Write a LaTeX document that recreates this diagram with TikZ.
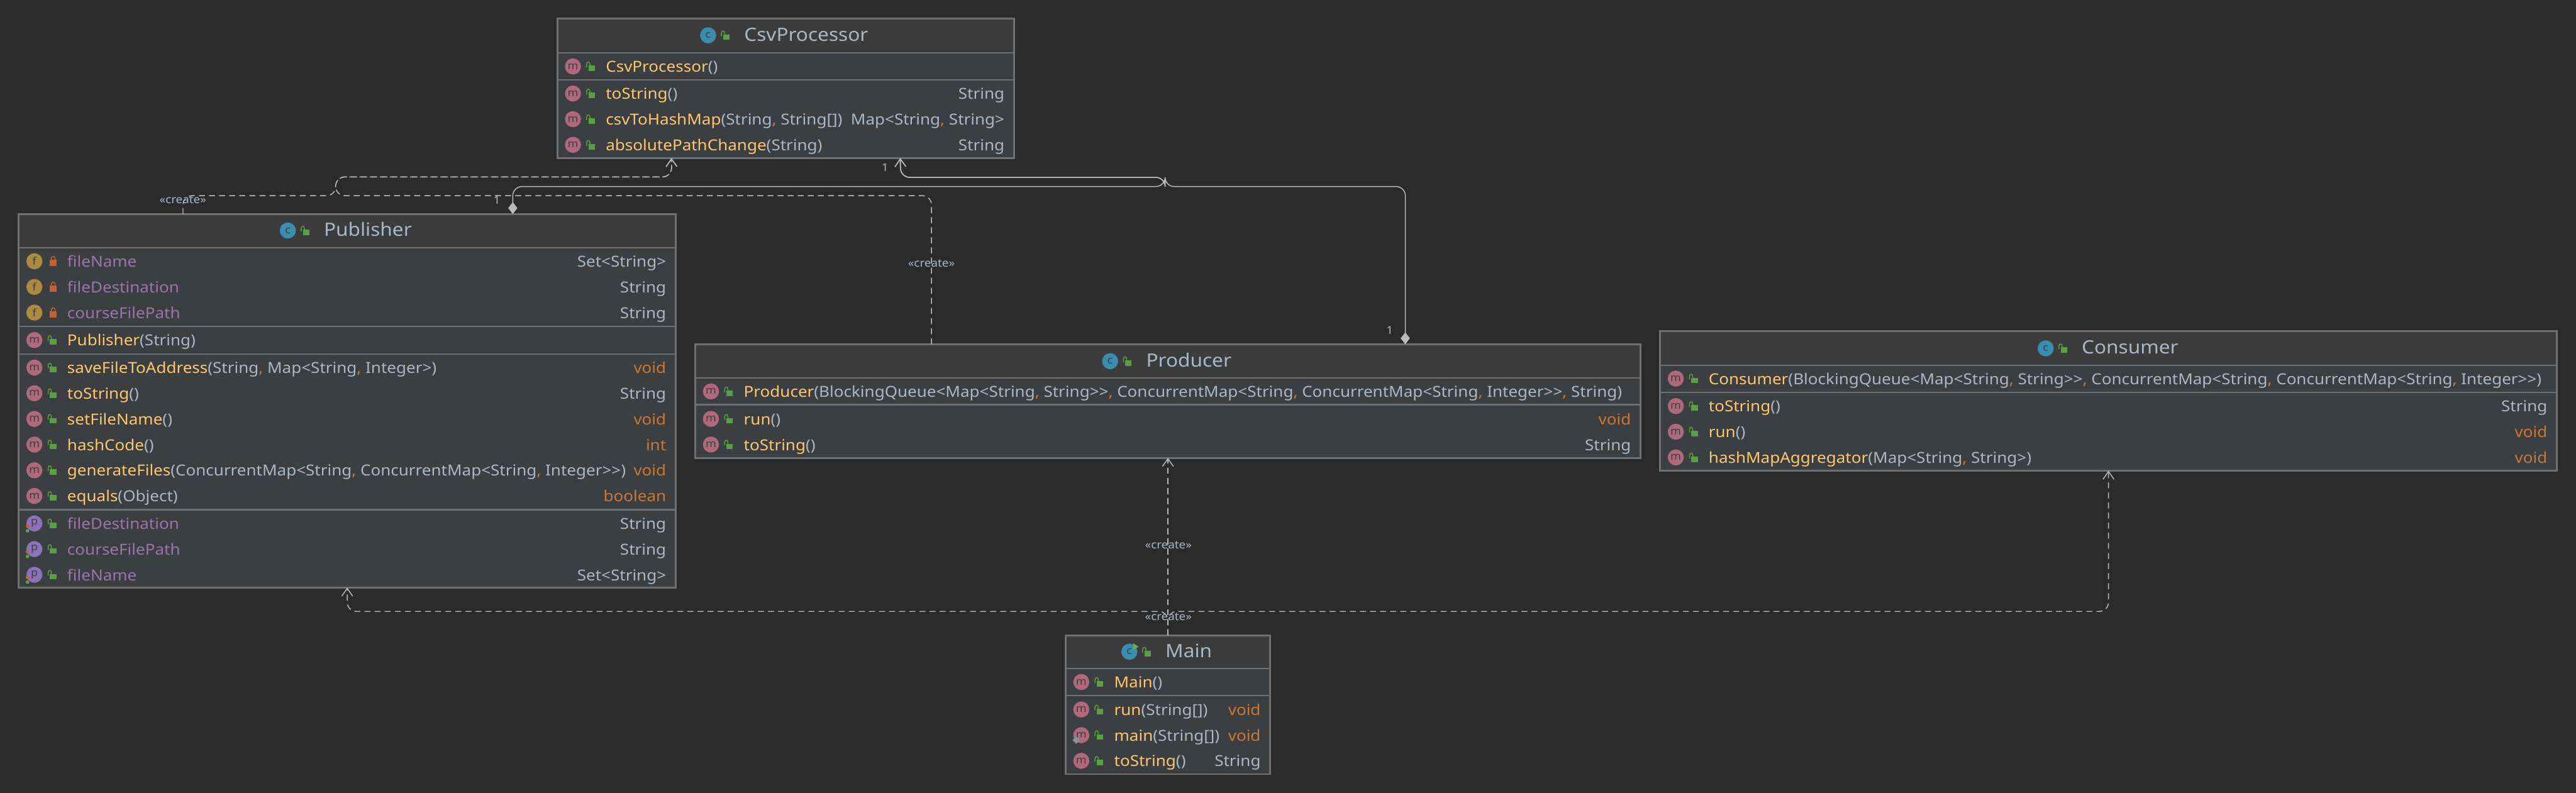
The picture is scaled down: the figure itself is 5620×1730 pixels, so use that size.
\documentclass[tikz,border=0pt]{standalone}
\usepackage{fontspec}
\usepackage{tikz}
\usetikzlibrary{arrows.meta,fit}
\setmainfont[FakeStretch=1.08]{Noto Sans}

\definecolor{backcolor}{HTML}{2B2B2B}
\definecolor{headcolor}{HTML}{3C3C3C}
\definecolor{partcolor}{HTML}{3C3F41}
\definecolor{edgecolor}{HTML}{707070}
\definecolor{linecolor}{HTML}{BBBBBB}
\definecolor{typecolor}{HTML}{A9B7C6}
\definecolor{namecolor}{HTML}{FFC66D}
\definecolor{wordcolor}{HTML}{CC7832}
\definecolor{fieldcolor}{HTML}{9876AA}
\definecolor{markcolor}{HTML}{3C3F41}
\definecolor{methodball}{HTML}{B0697C}
\definecolor{classball}{HTML}{3B8DAE}
\definecolor{fieldball}{HTML}{AE8A3E}
\definecolor{propball}{HTML}{8C72B8}
\definecolor{openlockcolor}{HTML}{59A040}
\definecolor{shutlockcolor}{HTML}{C75F2E}

\newcommand{\bodyfont}{\fontsize{9.4}{11}\selectfont}
\newcommand{\titlefont}{\fontsize{11.4}{13}\selectfont}
\newcommand{\notefont}{\fontsize{6.8}{8}\selectfont}
\newcommand{\markfont}{\fontsize{6.5}{7}\selectfont}
\newcommand{\mn}[1]{\textcolor{namecolor}{#1}}
\newcommand{\fd}[1]{\textcolor{fieldcolor}{#1}}
\newcommand{\kw}[1]{\textcolor{wordcolor}{#1}}
\newcommand{\cm}{\kw{,}}

\tikzset{
  >={Straight Barb[length=.17cm,width=.24cm]},
  headbox/.style={draw=edgecolor,fill=headcolor,line width=.03cm,inner sep=0pt,outer sep=0pt},
  partbox/.style={draw=edgecolor,fill=partcolor,line width=.03cm,inner sep=0pt,outer sep=0pt},
  classbox/.style={draw=edgecolor,line width=.04cm,inner sep=0pt,outer sep=0pt},
  ball/.style={circle,minimum size=.35cm,inner sep=0pt,font=\markfont,text=markcolor},
  iconm/.style={ball,fill=methodball},
  iconf/.style={ball,fill=fieldball},
  iconp/.style={ball,fill=propball},
  iconc/.style={ball,fill=classball},
  rowtext/.style={anchor=mid west,inner sep=0pt,font=\bodyfont,text=typecolor},
  typetext/.style={anchor=mid east,inner sep=0pt,font=\bodyfont,text=typecolor},
  titletext/.style={anchor=mid west,inner sep=0pt,font=\titlefont,text=typecolor},
  note/.style={inner sep=0pt,font=\notefont,text=typecolor},
  solidline/.style={draw=linecolor,line width=.02cm,rounded corners=.2cm},
  createline/.style={solidline,dash pattern=on .13cm off .09cm},
  diamondline/.style={solidline,{Diamond[length=.26cm,width=.2cm,fill=linecolor]}->},
  openlock/.pic={
    \fill[openlockcolor] (-7,-2) rectangle (7,10);
    \draw[openlockcolor,line width=.02cm] (-11,2) -- (-11,-5) .. controls (-11,-11) and (-4,-11) .. (-4,-5) -- (-4,-2);
  },
  shutlock/.pic={
    \fill[shutlockcolor] (-7,-3) rectangle (7,11);
    \draw[shutlockcolor,line width=.02cm] (-4,-3) -- (-4,-6) .. controls (-4,-12) and (4,-12) .. (4,-6) -- (4,-3);
  },
}

\newcommand{\classrow}[5][m]{
  \coordinate (#2#3) at (#2.west |- 0,#3);
  \node[icon#1] (#2#3icon) at ([xshift=.34cm]#2#3) {#1};
  \if#1f
    \pic at ([xshift=.75cm]#2#3) {shutlock};
  \else
    \pic at ([xshift=.75cm]#2#3) {openlock};
  \fi
  \if#1p
    \fill[shutlockcolor] ([xshift=-.15cm,yshift=-.06cm]#2#3icon.center) circle (.04cm);
    \fill[openlockcolor] ([xshift=-.15cm,yshift=-.16cm]#2#3icon.center) circle (.04cm);
  \fi
  \node[rowtext] (#2#3name) at ([xshift=1.05cm,yshift=-.03cm]#2#3) {#4};
  \if\relax\detokenize{#5}\relax\else
    \node[typetext] (#2#3type) at ([xshift=-.2cm,yshift=-.03cm]#2.east |- #2#3) {#5};
  \fi
}
\newcommand{\classtitle}[4]{
  \node[titletext] (#1title) at (#2,#3) {#4};
  \node[iconc] (#1icon) at ([xshift=-.78cm,yshift=.03cm]#1title.mid west) {c};
  \pic at ([xshift=-.38cm,yshift=.03cm]#1title.mid west) {openlock};
}

\begin{document}
\begin{tikzpicture}[x=.01cm,y=-.01cm]
  \fill[backcolor] (0,0) rectangle (5620,1730);
  \useasboundingbox (0,0) rectangle (5620,1730);

  \node[headbox,fit={(1216,41) (2212,115)}] (csvhead) {};
  \foreach \ya/\yb in {115/174,174/345}
    \node[partbox,fit={(1216,\ya) (2212,\yb)}] (csv\ya) {};
  \node[classbox,fit={(1216,41) (2212,345)}] (csv) {};

  \node[headbox,fit={(41,467) (1474,541)}] (publisherhead) {};
  \foreach \ya/\yb in {541/712,712/772,772/1112,1112/1282}
    \node[partbox,fit={(41,\ya) (1474,\yb)}] (publisher\ya) {};
  \node[classbox,fit={(41,467) (1474,1282)}] (publisher) {};

  \node[headbox,fit={(1517,751) (3579,825)}] (producerhead) {};
  \foreach \ya/\yb in {825/883,883/999}
    \node[partbox,fit={(1517,\ya) (3579,\yb)}] (producer\ya) {};
  \node[classbox,fit={(1517,751) (3579,999)}] (producer) {};

  \node[headbox,fit={(3622,723) (5578,797)}] (consumerhead) {};
  \foreach \ya/\yb in {797/856,856/1027}
    \node[partbox,fit={(3622,\ya) (5578,\yb)}] (consumer\ya) {};
  \node[classbox,fit={(3622,723) (5578,1027)}] (consumer) {};

  \node[headbox,fit={(2325,1386) (2771,1459)}] (mainhead) {};
  \foreach \ya/\yb in {1459/1518,1518/1689}
    \node[partbox,fit={(2325,\ya) (2771,\yb)}] (main\ya) {};
  \node[classbox,fit={(2325,1386) (2771,1689)}] (main) {};

  \classtitle{csv}{1623}{80}{CsvProcessor}
  \classrow{csv}{145}{\mn{CsvProcessor}()}{}
  \classrow{csv}{204}{\mn{toString}()}{String}
  \classrow{csv}{260}{\mn{csvToHashMap}(String\cm{} String[])}{Map<String\cm{} String>}
  \classrow{csv}{316}{\mn{absolutePathChange}(String)}{String}

  \classtitle{publisher}{706}{506}{Publisher}
  \classrow[f]{publisher}{570}{\fd{fileName}}{Set<String>}
  \classrow[f]{publisher}{626}{\fd{fileDestination}}{String}
  \classrow[f]{publisher}{682}{\fd{courseFilePath}}{String}
  \classrow{publisher}{742}{\mn{Publisher}(String)}{}
  \classrow{publisher}{802}{\mn{saveFileToAddress}(String\cm{} Map<String\cm{} Integer>)}{\kw{void}}
  \classrow{publisher}{858}{\mn{toString}()}{String}
  \classrow{publisher}{914}{\mn{setFileName}()}{\kw{void}}
  \classrow{publisher}{970}{\mn{hashCode}()}{\kw{int}}
  \classrow{publisher}{1026}{\mn{generateFiles}(ConcurrentMap<String\cm{} ConcurrentMap<String\cm{} Integer>{}>)}{\kw{void}}
  \classrow{publisher}{1082}{\mn{equals}(Object)}{\kw{boolean}}
  \classrow[p]{publisher}{1142}{\fd{fileDestination}}{String}
  \classrow[p]{publisher}{1198}{\fd{courseFilePath}}{String}
  \classrow[p]{publisher}{1254}{\fd{fileName}}{Set<String>}

  \classtitle{producer}{2500}{791}{Producer}
  \classrow{producer}{854}{\mn{Producer}(BlockingQueue<Map<String\cm{} String>{}>\cm{} ConcurrentMap<String\cm{} ConcurrentMap<String\cm{} Integer>{}>\cm{} String)}{}
  \classrow{producer}{914}{\mn{run}()}{\kw{void}}
  \classrow{producer}{970}{\mn{toString}()}{String}

  \classtitle{consumer}{4541}{763}{Consumer}
  \classrow{consumer}{826}{\mn{Consumer}(BlockingQueue<Map<String\cm{} String>{}>\cm{} ConcurrentMap<String\cm{} ConcurrentMap<String\cm{} Integer>{}>)}{}
  \classrow{consumer}{886}{\mn{toString}()}{String}
  \classrow{consumer}{942}{\mn{run}()}{\kw{void}}
  \classrow{consumer}{998}{\mn{hashMapAggregator}(Map<String\cm{} String>)}{\kw{void}}

  \classtitle{main}{2542}{1425}{Main}
  \fill[openlockcolor!90!white] (2472,1403) -- (2484,1411) -- (2472,1418) -- cycle;
  \classrow{main}{1488}{\mn{Main}()}{}
  \classrow{main}{1548}{\mn{run}(String[])}{\kw{void}}
  \classrow{main}{1604}{\mn{main}(String[])}{\kw{void}}
  \classrow{main}{1660}{\mn{toString}()}{String}
  \fill[typecolor!80!black] (2340,1615) -- (2348,1607) -- (2356,1615) -- (2348,1623) -- cycle;

  \draw[createline,->] ([xshift=-3.58cm]publisher.north) -- ++(0,-40) -- ++(333,0) -- ++(0,-41) -- ++(733,0) -- ([xshift=-2.49cm]csv.south);
  \draw[createline,->] ([xshift=5.15cm]producer.north west) -- ++(0,-324) -- ++(-1300,0) -- ++(0,-41) -- ++(733,0) -- ([xshift=-2.49cm]csv.south);
  \draw[diamondline] ([xshift=3.61cm]publisher.north) -- ++(0,-60) -- ++(1423,0) -- ++(0,-20) -- ++(-577,0) -- ([xshift=2.5cm]csv.south);
  \draw[diamondline] ([xshift=15.48cm]producer.north west) -- ++(0,-344) -- ++(-524,0) -- ++(0,-20) -- ++(-577,0) -- ([xshift=2.5cm]csv.south);
  \draw[createline,->] (main.north) -- (producer.south);
  \draw[createline,->] (main.north) -- ++(0,-52) -| (publisher.south);
  \draw[createline,->] (main.north) -- ++(0,-52) -| (consumer.south);

  \node[note] (createpublisher) at (399,436) {«create»};
  \node[note] (createproducer) at (2032,574) {«create»};
  \node[note] (createmain) at (2549,1190) {«create»};
  \node[note] (createbottom) at (2549,1346) {«create»};
  \node[note] (onepublisher) at (1084,437) {1};
  \node[note] (onecsv) at (1931,365) {1};
  \node[note] (oneproducer) at (3032,721) {1};
\end{tikzpicture}
\end{document}
